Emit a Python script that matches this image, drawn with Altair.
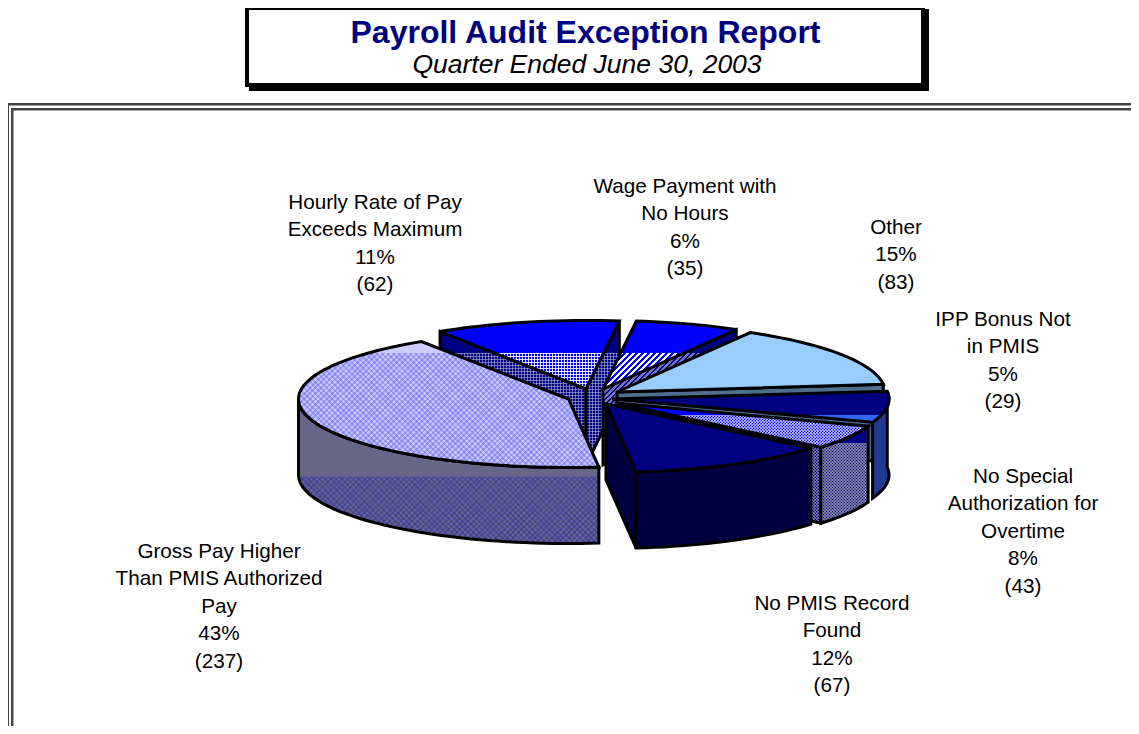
import math
import altair as alt

# ---- chart values ----
slices = ["Hourly Rate of Pay Exceeds Maximum", "Wage Payment with No Hours", "Other",
          "IPP Bonus Not in PMIS", "No Special Authorization for Overtime",
          "No PMIS Record Found", "Gross Pay Higher Than PMIS Authorized Pay"]
counts = [62, 35, 83, 29, 43, 67, 237]
label_lines = [
    ["Hourly Rate of Pay", "Exceeds Maximum", "11%", "(62)"],
    ["Wage Payment with", "No Hours", "6%", "(35)"],
    ["Other", "15%", "(83)"],
    ["IPP Bonus Not", "in PMIS", "5%", "(29)"],
    ["No Special", "Authorization for", "Overtime", "8%", "(43)"],
    ["No PMIS Record", "Found", "12%", "(67)"],
    ["Gross Pay Higher", "Than PMIS Authorized", "Pay", "43%", "(237)"],
]
title_text = "Payroll Audit Exception Report"
subtitle_text = "Quarter Ended June 30, 2003"

# ---- layout ----
W, H = 1123, 718
OX, OY = 8, 8
START = 237.0
RX, RY, DEPTH = 268.0, 68.5, 76.0
apex = [(586, 389), (603, 389), (617, 392), (612, 399), (616, 403), (606, 404), (568.5, 399)]
rx_by = [RX, RX, RX, 277.0, RX, RX, 270.0]
nudge = {3: 7.5}   # end-of-slice boundary shift, perspective of the original
label_pos = [(375, 202.7), (685, 186.7), (896, 227.7), (1003, 319.7), (1023, 476.7), (832, 603.7), (219, 551.7)]
LINE = 27.5

total = sum(counts)
bounds = []
a = START
for i, c in enumerate(counts):
    b = a + c / total * 360.0
    bounds.append((a, b))
    a = b
bounds = [(s + nudge.get(i - 1, 0), e + nudge.get(i, 0)) for i, (s, e) in enumerate(bounds)]


def rim(i, t, dy=0.0):
    cx, cy = apex[i]
    r = math.radians(t)
    return (cx + rx_by[i] * math.cos(r), cy + RY * math.sin(r) + dy)


def arc(i, t0, t1, dy=0.0):
    n = max(2, int(abs(t1 - t0) / 2) + 1)
    return [rim(i, t0 + (t1 - t0) * k / n, dy) for k in range(n + 1)]


def top(i):
    return [apex[i]] + arc(i, *bounds[i])


def radial_wall(i, t):
    cx, cy = apex[i]
    p = rim(i, t)
    return [(cx, cy), p, (p[0], p[1] + DEPTH), (cx, cy + DEPTH)]


def outer_wall(i, t0, t1):
    return arc(i, t0, t1) + arc(i, t1, t0, DEPTH)


def clip_below(points, band_y):
    out = []
    n = len(points)
    for k in range(n):
        p, q = points[k], points[(k + 1) % n]
        pin, qin = p[1] >= band_y, q[1] >= band_y
        if pin:
            out.append(p)
        if pin != qin:
            f = (band_y - p[1]) / (q[1] - p[1])
            out.append((p[0] + f * (q[0] - p[0]), band_y))
    return out


def banded(points, band_y, upper, lower):
    ys = [p[1] for p in points]
    y0, y1 = min(ys), max(ys)
    if band_y is None or band_y >= y1 or upper == lower:
        return upper
    if band_y <= y0:
        return lower
    off = (band_y - y0) / (y1 - y0)
    return alt.LinearGradient(gradient="linear", x1=0, y1=0, x2=0, y2=1, stops=[
        alt.GradientStop(offset=0, color=upper), alt.GradientStop(offset=off, color=upper),
        alt.GradientStop(offset=off, color=lower), alt.GradientStop(offset=1, color=lower)])


def stripes(points, kind, period, duty, color):
    xs_ = [p[0] for p in points]
    ys_ = [p[1] for p in points]
    w, h = max(xs_) - min(xs_), max(ys_) - min(ys_)
    if kind == "h":
        span, vec = h, dict(x1=0, y1=0, x2=0, y2=1)
    elif kind == "v":
        span, vec = w, dict(x1=0, y1=0, x2=1, y2=0)
    else:
        k = (w + h) / (w * w + h * h)
        span = w + h
        if kind == "d+":
            vec = dict(x1=0, y1=0, x2=w * k, y2=h * k)
        else:
            vec = dict(x1=0, y1=1, x2=w * k, y2=1 - h * k)
    clear = "rgba(0,0,0,0)"
    stops, pos = [], 0.0
    while pos < span:
        on_end = min(pos + period * duty, span)
        off_end = min(pos + period, span)
        stops += [alt.GradientStop(offset=pos / span, color=color),
                  alt.GradientStop(offset=on_end / span, color=color),
                  alt.GradientStop(offset=on_end / span, color=clear),
                  alt.GradientStop(offset=off_end / span, color=clear)]
        pos += period
    return alt.LinearGradient(gradient="linear", stops=stops, **vec)


def poly_layer(points, **style):
    ring = [[float(x), float(y)] for x, y in points]
    ring.append(ring[0])
    feature = {"type": "Feature", "properties": {}, "geometry": {"type": "Polygon", "coordinates": [ring]}}
    return alt.Chart(alt.Data(values=[feature])).mark_geoshape(**style).project(
        type="identity", scale=1, translate=[-OX, -OY])


def face(points, band_y, upper, lower, textures=()):
    """fill, optional hatch overlays under band_y, then outline"""
    out = [poly_layer(points, fill=banded(points, band_y, upper, lower), strokeWidth=0)]
    if band_y is not None:
        low = clip_below(points, band_y)
        if len(low) >= 3:
            for kind, period, duty, color in textures:
                out.append(poly_layer(low, fill=stripes(low, kind, period, duty, color), strokeWidth=0))
    out.append(poly_layer(points, fill="transparent", stroke="#000000", strokeWidth=3,
                          strokeJoin="miter", strokeMiterLimit=3))
    return out


DOTS_TOP = [("d+", 5.6, 0.5, "rgba(70,70,240,0.3)"), ("d-", 5.6, 0.5, "rgba(70,70,240,0.3)")]
DOTS_WALL = [("d+", 5.6, 0.5, "rgba(40,40,170,0.35)"), ("d-", 5.6, 0.5, "rgba(40,40,170,0.35)")]
GRID_TOP = [("h", 3.0, 0.4, "rgba(255,255,255,0.85)"), ("v", 3.0, 0.4, "rgba(255,255,255,0.85)")]
GRID_WALL = [("h", 3.0, 0.4, "rgba(190,190,220,0.55)"), ("v", 3.0, 0.4, "rgba(190,190,220,0.55)")]
HATCH_TOP = [("d+", 6.0, 0.5, "rgba(255,255,255,1)")]
HATCH_WALL = [("d+", 5.0, 0.45, "rgba(200,200,220,0.6)")]
CHECK_TOP = [("d+", 3.0, 0.5, "rgba(255,255,255,0.55)"), ("d-", 3.0, 0.5, "rgba(255,255,255,0.55)")]
CHECK_WALL = [("d+", 3.0, 0.5, "rgba(150,150,170,0.6)"), ("d-", 3.0, 0.5, "rgba(150,150,170,0.6)")]

b = bounds
layers_pie = []
for spec in [
    # Hourly
    (radial_wall(0, b[0][0]), 353, "#000080", "#000080", GRID_WALL),
    (radial_wall(0, b[0][1]), 353, "#000080", "#000080", GRID_WALL),
    (top(0), 353, "#0000ff", "#0000ff", GRID_TOP),
    # Wage
    (radial_wall(1, b[1][1]), 353, "#000080", "#000080", HATCH_WALL),
    (top(1), 353, "#0000ff", "#0000ff", HATCH_TOP),
    # Other
    (radial_wall(2, b[2][1]), None, "#4f6f8f", "#4f6f8f", ()),
    (top(2), None, "#99ccff", "#99ccff", ()),
    # IPP
    (outer_wall(3, b[3][0], b[3][1]), None, "#1f3a8f", "#1f3a8f", ()),
    (top(3), 415, "#000080", "#3366ff", ()),
    # No Special
    (radial_wall(4, b[4][1]), 443, "#000080", "#000080", CHECK_WALL),
    (outer_wall(4, b[4][0], b[4][1]), 443, "#000080", "#000080", CHECK_WALL),
    (top(4), 415, "#0000ff", "#0000ff", CHECK_TOP),
    # PMIS
    (radial_wall(5, b[5][1]), None, "#000040", "#000040", ()),
    (outer_wall(5, b[5][0], b[5][1]), None, "#000040", "#000040", ()),
    (top(5), None, "#000080", "#000080", ()),
    # Gross
    (outer_wall(6, b[6][0], 540), 476.5, "#666688", "#666688", DOTS_WALL),
    (top(6), 353, "#ccccff", "#ccccff", DOTS_TOP),
]:
    layers_pie += face(*spec)

xs = alt.X("x:Q", scale=alt.Scale(domain=[OX, OX + W], nice=False), axis=None)
ys = alt.Y("y:Q", scale=alt.Scale(domain=[OY + H, OY], nice=False), axis=None)
x2 = alt.X2("x2:Q")
y2 = alt.Y2("y2:Q")

rects = [
    # title box: shadow, border
    dict(x=249, x2=929, y=9, y2=91, c="#000000"),
    dict(x=245, x2=925, y=8, y2=87, c="#000000"),
    dict(x=249, x2=921, y=10, y2=83, c="#ffffff"),
    # double frame
    dict(x=8, x2=1131, y=103, y2=105.5, c="#444444"),
    dict(x=11, x2=1131, y=108, y2=110.5, c="#444444"),
    dict(x=8, x2=9, y=103, y2=726, c="#444444"),
    dict(x=11, x2=13.5, y=108, y2=726, c="#444444"),
]
rect_layer = alt.Chart(alt.Data(values=rects)).mark_rect().encode(
    x=xs, x2=x2, y=ys, y2=y2, color=alt.Color("c:N", scale=None))

text_rows = []
for (px, py), lines in zip(label_pos, label_lines):
    for k, line in enumerate(lines):
        text_rows.append({"x": px, "y": py + k * LINE, "t": line})
label_layer = alt.Chart(alt.Data(values=text_rows)).mark_text(
    font="Liberation Sans", fontSize=20.7, color="#000000", align="center", baseline="middle"
).encode(x=xs, y=ys, text="t:N")

title_layer = alt.Chart(alt.Data(values=[{"x": 585.5, "y": 33, "t": title_text}])).mark_text(
    font="Liberation Sans", fontSize=32, fontWeight="bold", color="#000080", align="center", baseline="middle"
).encode(x=xs, y=ys, text="t:N")
sub_layer = alt.Chart(alt.Data(values=[{"x": 587, "y": 65, "t": subtitle_text}])).mark_text(
    font="Liberation Sans", fontSize=26.5, fontStyle="italic", color="#000000", align="center", baseline="middle"
).encode(x=xs, y=ys, text="t:N")

layers = [rect_layer] + layers_pie + [label_layer, title_layer, sub_layer]

chart = alt.layer(*layers).properties(
    width=W, height=H, padding=0, background="#ffffff", autosize=alt.AutoSizeParams(type="none")
).configure_view(stroke="transparent", strokeWidth=0)
chart.save("out.html", embed_options={"renderer": "svg", "actions": False})
